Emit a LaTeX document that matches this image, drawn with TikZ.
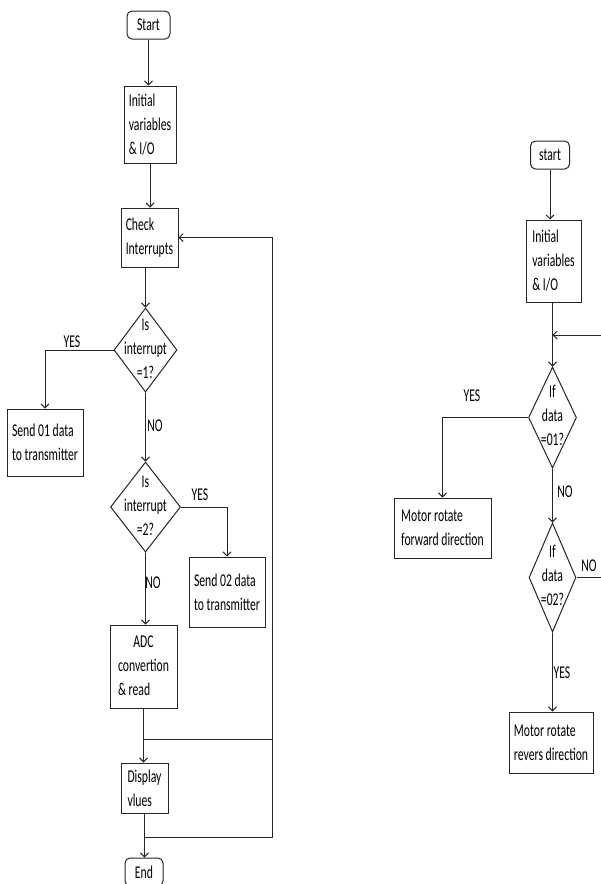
\documentclass[tikz,border=0pt]{standalone}
\usepackage{fontspec}
\setmainfont{Carlito}[FakeStretch=0.65]
\usetikzlibrary{shapes.geometric,arrows.meta}
\newcommand\fc{\fontsize{18}{24}\selectfont}
\newcommand\dtxt[1]{\raisebox{-8pt}{\makebox[0pt]{\smash{\begin{tabular}{@{}c@{}}#1\end{tabular}}}}}
\begin{document}
\begin{tikzpicture}[x=1pt,y=-1pt,
  line width=1pt, color=black!85,
  every node/.style={font=\fc, text=black},
  box/.style={draw, rectangle, inner xsep=4pt, inner ysep=2pt, align=left},
  term/.style={draw, rectangle, rounded corners=5pt, inner sep=2pt},
  dec/.style={draw, diamond, inner sep=0pt},
  lbl/.style={inner sep=0pt},
  arr/.style={-{Straight Barb[length=4pt,width=8pt]}}]
\useasboundingbox (0,0) rectangle (601,884);
% left chart
\node[term, minimum width=43pt, minimum height=28pt] (st1) at (148.5,25) {Start};
\node[box, minimum width=52pt, minimum height=77pt] (in1) at (150,124.5) {Initial\\variables\\\& I/O};
\node[box, minimum width=57pt, minimum height=59pt] (ck1) at (149.5,237.5) {Check\\Interrupts};
\node[dec, minimum width=63pt, minimum height=84pt] (d1) at (145.5,350) {\dtxt{Is\\interrupt\\=1?}};
\node[box, minimum width=76pt, minimum height=67pt] (s1) at (45,442.5) {Send 01 data\\to transmitter};
\node[dec, minimum width=70pt, minimum height=90pt] (d2) at (145.5,507) {\dtxt{Is\\interrupt\\=2?}};
\node[box, minimum width=76pt, minimum height=70pt] (s2) at (227,592) {Send 02 data\\to transmitter};
\node[box, minimum width=67pt, minimum height=83pt] (adc) at (143.5,666.5) {\begin{tabular}{@{}l@{}}\multicolumn{1}{@{}c@{}}{ADC}\\convertion\\\& read\end{tabular}};
\node[box, minimum width=47pt, minimum height=50pt] (disp) at (144.5,788) {Display\\vlues};
\node[term, minimum width=38pt, minimum height=28pt] (end) at (144,872) {End};
\node[lbl] (y1) at (72,342) {YES};
\node[lbl] (n1) at (155,426) {NO};
\node[lbl] (y2) at (200,495) {YES};
\node[lbl] (n2) at (153,583) {NO};
\coordinate (r1) at (272,739);
\coordinate (r2) at (272,837);
\draw[arr] (st1.south) -- (st1.south |- in1.north);
\draw[arr] (in1.south) -- (in1.south |- ck1.north);
\draw[arr] (d1.north |- ck1.south) -- (d1.north);
\draw[arr] (d1.west) -| (s1.north);
\draw[arr] (d1.south) -- (d2.north);
\draw[arr] (d2.east) -| (s2.north);
\draw[arr] (d2.south) -- (d2.south |- adc.north);
\draw[arr] (adc.south) -- (adc.south |- disp.north);
\draw (r1 -| adc.south) -- (r1);
\draw[arr] (disp.south) -- (disp.south |- end.north);
\draw[arr] (r2 -| disp.south) -- (r2) |- (ck1.east);
% right chart
\node[term, minimum width=39pt, minimum height=28pt] (st2) at (550,155) {start};
\node[box, minimum width=55pt, minimum height=82pt] (in2) at (553.5,261) {Initial\\variables\\\& I/O};
\node[dec, minimum width=48pt, minimum height=101pt] (d3) at (552.5,417.5) {\dtxt{If\\data\\=01?}};
\node[box, minimum width=97pt, minimum height=60pt] (mf) at (442.5,528) {Motor rotate\\forward direction};
\node[dec, minimum width=47pt, minimum height=109pt] (d4) at (552.5,577.5) {\dtxt{If\\data\\=02?}};
\node[box, minimum width=84pt, minimum height=61pt] (mr) at (551,742.5) {Motor rotate\\revers direction};
\node[lbl] (y3) at (472,396) {YES};
\node[lbl] (n3) at (565,492) {NO};
\node[lbl] (n4) at (589,566) {NO};
\node[lbl] (y4) at (562,673) {YES};
\coordinate (m1) at (601,335);
\coordinate (m2) at (601,577.5);
\draw[arr] (st2.south) -- (st2.south |- in2.north);
\draw[arr] (d3.north |- in2.south) -- (d3.north);
\draw[arr] (m1) -- (m1 -| d3.north);
\draw[arr] (d3.west) -| (mf.north);
\draw[arr] (d3.south) -- (d4.north);
\draw (d4.east) -- (m2);
\draw[arr] (d4.south) -- (d4.south |- mr.north);
\end{tikzpicture}
\end{document}
